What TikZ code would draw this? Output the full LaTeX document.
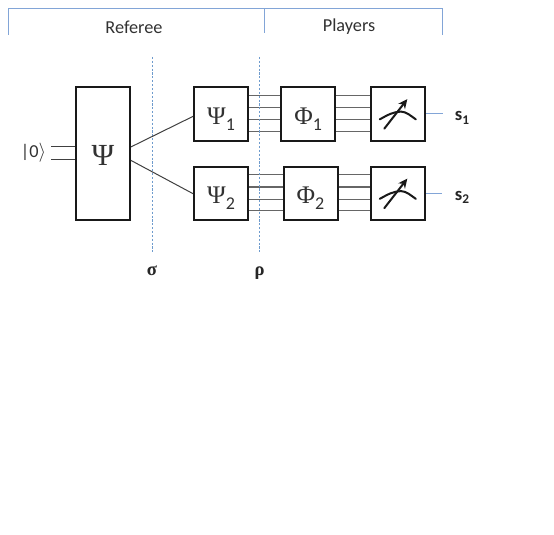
\documentclass[tikz,border=0pt]{standalone}
\usepackage{fontspec}
\setmainfont{Carlito}
\newfontfamily\grk{Liberation Serif}
\usetikzlibrary{calc,arrows.meta}
\definecolor{blueln}{RGB}{130,165,215}
\definecolor{bluedash}{RGB}{110,155,205}
\definecolor{txt}{RGB}{50,50,50}
\tikzset{
  blk/.style={draw=black!90,line width=1.5pt,fill=white,minimum width=40.5pt,inner sep=0pt,anchor=north west,text=txt},
  wire/.style={draw=black!60,line width=.85pt},
  thinw/.style={draw=black!75,line width=.75pt},
  brk/.style={draw=blueln,line width=.75pt},
  cut/.style={draw=bluedash,line width=.7pt,dash pattern=on 1.6pt off 1.3pt},
  lbl/.style={inner sep=0pt,text=txt,font=\fontsize{13.7}{16}\selectfont},
  sym/.style={inner sep=0pt,text=black!85,font=\fontsize{14}{16}\selectfont\bfseries},
  glyph/.style={font=\grk\fontsize{23}{26}\selectfont},
}
\newcommand{\gsub}[2]{\raisebox{-7.5pt}[0pt][0pt]{\grk\fontsize{19}{22}\selectfont #1}\raisebox{-12pt}[0pt][0pt]{\fontsize{13.5}{15}\selectfont #2}}
\begin{document}
\begin{tikzpicture}[x=.75pt,y=-.75pt]
\useasboundingbox (0,0) rectangle (554,535);
% brackets
\coordinate (b0) at (8.5,35);\coordinate (b1) at (8.5,9);\coordinate (b2) at (264.5,9);
\coordinate (b3) at (264.5,33);\coordinate (b4) at (442,9);\coordinate (b5) at (442,35);
\draw[brk] (b0)--(b1)--(b4)--(b5);
\draw[brk] (b2)--(b3);
\node[lbl] (referee) at (134,27) {Referee};
\node[lbl] (players) at (349,27) {Players};
% cuts
\coordinate (s0) at (152.5,57);\coordinate (s1) at (152.5,253);
\coordinate (r0) at (259,57);\coordinate (r1) at (259,253);
% boxes
\node[blk,minimum height=100pt,glyph] (psi) at (75,86) {\raisebox{-8.6pt}[0pt][0pt]{Ψ}};
\node[blk,minimum height=40pt] (psi1) at (193,86.5) {\gsub{Ψ}{1}};
\node[blk,minimum height=40pt] (psi2) at (193,166) {\gsub{Ψ}{2}};
\node[blk,minimum height=40pt] (phi1) at (280.3,86.5) {\gsub{Φ}{1}};
\node[blk,minimum height=40pt] (phi2) at (282.5,166) {\gsub{Φ}{2}};
\node[blk,minimum height=40pt] (m1) at (370.3,86.5) {};
\node[blk,minimum height=40pt] (m2) at (370.3,166) {};
% wires
\foreach \f in {.16,.38,.60,.81}{
  \draw[wire] ($(psi1.north east)!\f!(psi1.south east)$) -- ($(phi1.north west)!\f!(phi1.south west)$);
  \draw[wire] ($(phi1.north east)!\f!(phi1.south east)$) -- ($(m1.north west)!\f!(m1.south west)$);
  \draw[wire] ($(psi2.north east)!\f!(psi2.south east)$) -- ($(phi2.north west)!\f!(phi2.south west)$);
  \draw[wire] ($(phi2.north east)!\f!(phi2.south east)$) -- ($(m2.north west)!\f!(m2.south west)$);
}
\draw[cut] (s0)--(s1);
\draw[cut] (r0)--(r1);
\draw[thinw] ($(psi.north east)!.45!(psi.south east)$) -- ($(psi1.north west)!.54!(psi1.south west)$);
\draw[thinw] ($(psi.north east)!.55!(psi.south east)$) -- ($(psi2.north west)!.5!(psi2.south west)$);
% input
\node[lbl] (ket) at (33.5,153) {|0$\rangle$};
\coordinate (i1) at (51,147);\coordinate (i2) at (51,159.5);
\draw[thinw] (i1) -- (i1-|psi.west);
\draw[thinw] (i2) -- (i2-|psi.west);
% meters
\foreach \m in {m1,m2}{
  \draw[line width=1.5pt,line cap=round,black!90] ($(\m.west)+(9.5,5.2)$) .. controls +(8,-4.5) and +(-8,0) .. ($(\m.west)+(31,-2.5)$) .. controls +(5,0) and +(-5,-3.5) .. ($(\m.west)+(45.5,5.2)$);
  \draw[line width=1.5pt,line cap=round,black!90,-{Stealth[length=7pt,width=6.5pt]}] ($(\m.west)+(14,14.5)$) -- ($(\m.west)+(37,-15)$);
}
% outputs
\node[sym] (out1) at (462,118) {s\raisebox{-2.5pt}{\fontsize{10}{11}\selectfont 1}};
\node[sym] (out2) at (462,197.5) {s\raisebox{-2.5pt}{\fontsize{10}{11}\selectfont 2}};
\coordinate (o1) at (443,114);\coordinate (o2) at (442,193);
\draw[brk] (m1.east|-o1) -- (o1);
\draw[brk] (m2.east|-o2) -- (o2);
\node[sym] (sigma) at (152,271) {\grk σ};
\node[sym] (rho) at (259.5,273) {\grk ρ};
\end{tikzpicture}
\end{document}
